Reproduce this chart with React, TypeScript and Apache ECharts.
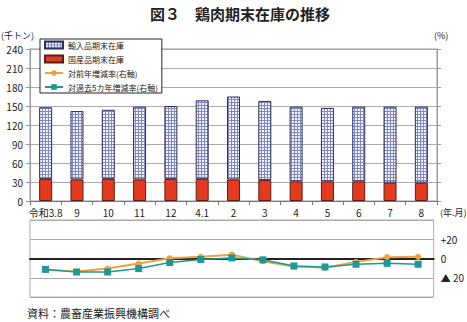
import React, { useEffect, useRef } from "react";
import * as echarts from "echarts";

const categories = ["令和3.8", "9", "10", "11", "12", "4.1", "2", "3", "4", "5", "6", "7", "8"];
const importedStock = [113, 108, 109, 115, 115, 124, 131, 125, 118, 116, 118, 120, 120];
const domesticStock = [35, 34, 35, 34, 35, 35, 34, 33, 31, 31, 31, 29, 29];
const yoyChange = [-11.6, -13.5, -10.5, -5.3, 0.3, 1.7, 4, -2.8, -8.4, -9.5, -3.5, 1.4, 1.7];
const fiveYearChange = [-11.3, -14, -14, -10.5, -4.2, -1, 0.6, -1.4, -7.8, -8.8, -6, -5, -6];
const leftTicks = [0, 30, 60, 90, 120, 150, 180, 210, 240];
const rightTickLabels: Record<string, string> = { "20": "+20", "0": "0", "-20": "▲ 20" };

const FONT = '"Noto Sans CJK JP", "Noto Sans", sans-serif';

function makePattern(): string {
  const c = document.createElement("canvas");
  c.width = 3;
  c.height = 3;
  const ctx = c.getContext("2d")!;
  ctx.fillStyle = "#f4f4fb";
  ctx.fillRect(0, 0, 3, 3);
  ctx.fillStyle = "#8189c4";
  ctx.fillRect(0, 0, 3, 1);
  ctx.fillRect(0, 0, 1, 3);
  return c.toDataURL();
}

export default function App() {
  const ref = useRef<HTMLDivElement>(null);
  useEffect(() => {
    if (!ref.current) return;
    const chart = echarts.init(ref.current, null, { renderer: "svg" });
    const pattern = { image: makePattern(), repeat: "repeat" } as any;
    chart.setOption({
      animation: false,
      textStyle: { fontFamily: FONT },
      graphic: [
        { type: "text", x: 240, y: 13, style: { text: "図３　鶏肉期末在庫の推移", font: `bold 15px ${FONT}`, fill: "#222", textAlign: "center", textVerticalAlign: "middle" } },
        { type: "text", x: 1, y: 35, style: { text: "(千トン)", font: `9px ${FONT}`, fill: "#222", textVerticalAlign: "middle" } },
        { type: "text", x: 434, y: 35, style: { text: "(%)", font: `9px ${FONT}`, fill: "#222", textVerticalAlign: "middle" } },
        { type: "text", x: 440, y: 212, style: { text: "(年.月)", font: `9px ${FONT}`, fill: "#222", textVerticalAlign: "middle" } },
        { type: "text", x: 27, y: 313, style: { text: "資料：農畜産業振興機構調べ", font: `11px ${FONT}`, fill: "#222", textVerticalAlign: "middle" } },
      ],
      legend: {
        orient: "vertical",
        left: 40,
        top: 39,
        padding: [1, 4, 1, 4],
        itemGap: 4,
        itemWidth: 18,
        itemHeight: 7,
        backgroundColor: "#fff",
        borderColor: "#222",
        borderWidth: 1,
        textStyle: { fontSize: 8, lineHeight: 10, color: "#222", fontFamily: FONT },
        data: [
          { name: "輸入品期末在庫", icon: "rect" },
          { name: "国産品期末在庫", icon: "rect" },
          "対前年増減率(右軸)",
          "対過去5カ年増減率(右軸)",
        ],
      },
      grid: [
        { left: 30, right: 30, top: 49, height: 152, show: true, borderColor: "#999", borderWidth: 1 },
        { left: 30, right: 31, top: 220, height: 77, show: true, borderColor: "#aaa", borderWidth: 1 },
      ],
      xAxis: [
        {
          type: "category",
          gridIndex: 0,
          data: categories,
          axisLine: { lineStyle: { color: "#777" } },
          axisTick: { show: true, length: 4, lineStyle: { color: "#777" } },
          axisLabel: { fontSize: 10, color: "#222", margin: 6, interval: 0 },
        },
        {
          type: "category",
          gridIndex: 1,
          data: categories,
          axisLine: { onZero: true, lineStyle: { color: "#222", width: 2 } },
          axisTick: { show: false },
          axisLabel: { show: false },
        },
      ],
      yAxis: [
        {
          type: "value",
          gridIndex: 0,
          min: 0,
          max: 240,
          interval: 30,
          axisLine: { show: true, lineStyle: { color: "#999" } },
          axisTick: { show: true, length: 4, lineStyle: { color: "#999" } },
          axisLabel: { fontSize: 10, color: "#222", margin: 7, formatter: (v: number) => (leftTicks.includes(v) ? String(v) : "") },
          splitLine: { lineStyle: { color: "#aaa" } },
        },
        {
          type: "value",
          gridIndex: 0,
          position: "right",
          min: 0,
          max: 240,
          interval: 30,
          axisLine: { show: true, lineStyle: { color: "#999" } },
          axisTick: { show: true, length: 4, lineStyle: { color: "#999" } },
          axisLabel: { show: false },
          splitLine: { show: false },
        },
        {
          type: "value",
          gridIndex: 1,
          position: "right",
          min: -40,
          max: 40,
          interval: 20,
          axisLine: { show: false },
          axisTick: { show: false },
          axisLabel: { fontSize: 10, color: "#222", margin: 7, formatter: (v: number) => rightTickLabels[String(v)] ?? "" },
          splitLine: { lineStyle: { color: "#aaa" } },
        },
      ],
      series: [
        {
          name: "国産品期末在庫",
          type: "bar",
          xAxisIndex: 0,
          yAxisIndex: 0,
          stack: "stock",
          barWidth: 13,
          data: domesticStock,
          itemStyle: { color: "#e43a1f", borderColor: "#5a1f14", borderWidth: 1 },
        },
        {
          name: "輸入品期末在庫",
          type: "bar",
          xAxisIndex: 0,
          yAxisIndex: 0,
          stack: "stock",
          barWidth: 13,
          data: importedStock,
          itemStyle: { color: pattern, borderColor: "#2c2f5e", borderWidth: 1 },
        },
        {
          name: "対前年増減率(右軸)",
          type: "line",
          xAxisIndex: 1,
          yAxisIndex: 2,
          data: yoyChange,
          symbol: "circle",
          symbolSize: 6,
          color: "#eea23c",
          lineStyle: { width: 2, color: "#eea23c" },
          itemStyle: { color: "#eea23c" },
        },
        {
          name: "対過去5カ年増減率(右軸)",
          type: "line",
          xAxisIndex: 1,
          yAxisIndex: 2,
          data: fiveYearChange,
          symbol: "rect",
          symbolSize: 7,
          color: "#1d9896",
          lineStyle: { width: 1.5, color: "#1d9896" },
          itemStyle: { color: "#1d9896" },
        },
      ],
    });
    return () => chart.dispose();
  }, []);
  return <div ref={ref} style={{ width: 467, height: 322, position: "absolute", left: 0, top: 0 }} />;
}
